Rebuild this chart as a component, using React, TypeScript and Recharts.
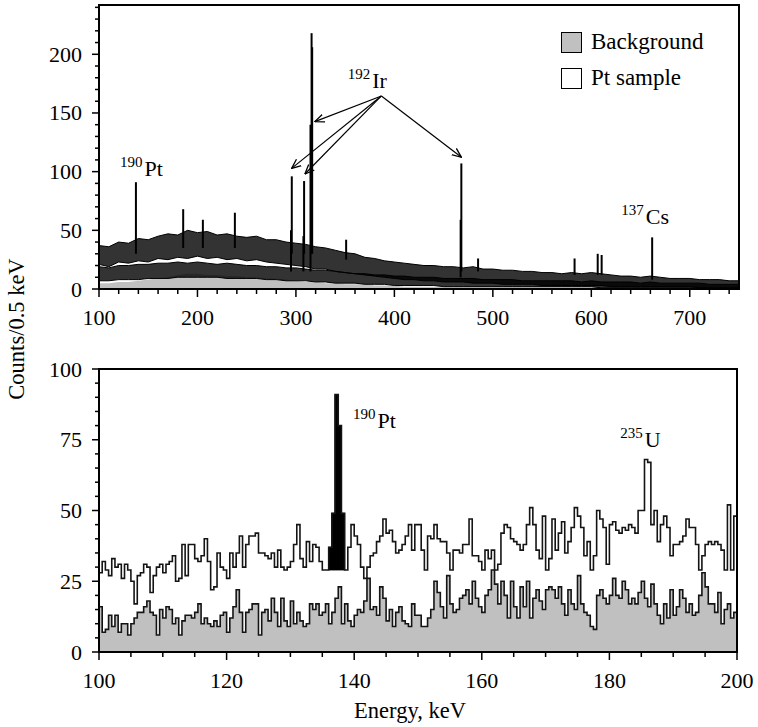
import React from 'react'
import {
  ComposedChart, Area, Line, XAxis, YAxis, ReferenceLine, ReferenceDot
} from 'recharts'

const FONT = '"Liberation Serif", "Times New Roman", Times, serif'
const GREY = '#c0c0c0'

// ---- lower panel: 0.5 keV channels starting at 100 keV ----
const ptSample = [
  28, 32, 29, 27, 33, 30, 31, 26, 31, 29, 25, 17, 27, 28, 31, 30, 21, 27, 30, 31,
  28, 31, 32, 34, 25, 26, 38, 27, 38, 38, 33, 32, 34, 40, 32, 22, 23, 35, 30, 29,
  26, 35, 30, 35, 41, 30, 38, 41, 41, 42,
  35, 35, 34, 33, 35, 30, 36, 30, 29, 30, 32, 38, 45, 33, 30, 39, 32, 38, 37, 32,
  29, 29, 37, 49, 91, 80, 49, 29, 37, 45, 41, 38, 30, 26, 30, 34, 35, 39, 41, 47,
  42, 43, 39, 35, 36, 38, 41, 45,
  36, 45, 45, 36, 29, 41, 40, 45, 40, 39, 39, 35, 29, 36, 36, 35, 38, 38, 47, 34,
  34, 32, 29, 36, 33, 36, 29, 31, 42, 45, 44, 40, 39, 38, 36, 38, 45, 51, 45, 36,
  33, 48, 29, 33, 47, 36, 42, 46, 35, 39, 44, 51, 48, 44, 34, 39, 29, 34, 50, 47,
  44, 31, 45, 46, 43, 42, 44, 43, 45, 44, 42, 50, 50, 68, 67, 45, 50, 39, 45, 48,
  44, 34, 38, 38, 39, 41, 47, 44, 44, 38, 29, 34, 38, 39, 38, 39, 38, 36, 29, 52,
  29, 48,
]
const bgSpectrum = [
  16, 7, 8, 13, 9, 13, 7, 10, 10, 6, 10, 12, 14, 14, 16, 18, 14, 13, 6, 15,
  12, 16, 15, 10, 12, 6, 11, 13, 13, 12, 14, 17, 10, 12, 10, 9, 11, 9, 13, 14,
  7, 12, 16, 22, 14, 7, 14, 15, 17, 17,
  6, 14, 15, 11, 19, 14, 9, 19, 11, 9, 18, 10, 14, 11, 9, 10, 17, 15, 17, 13,
  14, 17, 10, 14, 19, 23, 10, 17, 11, 9, 13, 15, 14, 18, 26, 15, 16, 13, 23, 19,
  11, 15, 9, 14, 16, 11, 10, 9,
  17, 13, 13, 9, 9, 12, 15, 25, 21, 16, 12, 27, 17, 14, 15, 19, 20, 22, 17, 25,
  19, 16, 14, 20, 22, 29, 24, 17, 25, 20, 12, 25, 16, 12, 23, 16, 25, 12, 19, 22,
  18, 15, 22, 23, 22, 19, 23, 17, 13, 22, 17, 15, 27, 17, 14, 13, 9, 8, 20, 22,
  19, 17, 20, 26, 20, 19, 25, 22, 17, 19, 17, 21, 25, 19, 16, 24, 17, 13, 10, 17,
  12, 22, 13, 16, 22, 19, 14, 17, 13, 14, 20, 28, 23, 17, 17, 14, 21, 10, 15, 17,
  12, 14,
]
const peakBase = 29
const peakFrom = 136
const peakTo = 138.5

// ---- upper panel: spread of the noisy spectra every 10 keV from 100 keV ----
const topPtLow = [
  21, 19, 23, 22, 24, 23, 26, 25, 27, 26, 28, 26, 27, 25, 26, 24, 25, 23, 22, 21,
  20, 19, 17, 17, 15, 14, 13, 12, 11, 10, 9, 8, 8, 7, 7, 6, 6, 6, 5, 5,
  5, 4, 4, 4, 4, 3, 3, 3, 3, 3, 3, 3, 2, 2, 2, 2, 2, 2, 2, 2,
  2, 1, 1, 1, 1, 1,
]
const topPtHigh = [
  37, 36, 40, 39, 43, 42, 45, 47, 46, 50, 48, 49, 46, 47, 45, 44, 45, 42, 42, 40,
  39, 38, 36, 35, 33, 31, 30, 27, 26, 24, 23, 22, 21, 20, 20, 19, 19, 18, 19, 17,
  17, 16, 16, 15, 15, 14, 14, 13, 14, 13, 14, 13, 12, 11, 11, 10, 11, 10, 9, 9,
  9, 8, 8, 8, 7, 7,
]
const topBgLow = [
  7, 7, 8, 8, 8, 9, 9, 9, 10, 10, 10, 10, 10, 9, 9, 9, 9, 8, 8, 7,
  7, 7, 6, 6, 5, 5, 5, 4, 4, 4, 3, 3, 3, 3, 3, 2, 2, 2, 2, 2,
  2, 2, 2, 2, 2, 2, 2, 2, 2, 2, 2, 1, 1, 1, 1, 1, 1, 1, 1, 1,
  1, 1, 1, 1, 1, 1,
]
const topBgHigh = [
  19, 18, 20, 20, 21, 21, 22, 22, 23, 22, 23, 22, 21, 22, 21, 20, 20, 19, 19, 18,
  18, 17, 16, 16, 15, 14, 13, 13, 12, 12, 11, 11, 10, 10, 10, 9, 9, 9, 9, 8,
  8, 8, 8, 7, 7, 7, 7, 7, 7, 6, 7, 6, 6, 6, 6, 5, 6, 5, 5, 5,
  5, 5, 4, 4, 4, 4,
]
const topBgFill = [
  5, 5, 6, 6, 7, 8, 9, 10, 12, 13, 13, 12, 12, 11, 11, 10, 10, 9, 9, 8,
  7, 6, 6, 5, 5, 4, 4, 4, 3, 3, 3, 2, 2, 2, 2, 2, 2, 2, 2, 2,
  2, 2, 2, 2, 2, 2, 2, 2, 2, 2, 2, 2, 2, 2, 2, 2, 2, 2, 2, 2,
  2, 2, 2, 2, 2, 2,
]
// narrow lines: energy (keV), foot and top (counts)
const topPeaks = [
  { e: 137.5, base: 30, top: 91 },
  { e: 185.5, base: 35, top: 68 },
  { e: 205.5, base: 35, top: 59 },
  { e: 238, base: 35, top: 65 },
  { e: 295, base: 15, top: 50 },
  { e: 295.8, base: 30, top: 96 },
  { e: 307.6, base: 15, top: 45 },
  { e: 308.3, base: 30, top: 92 },
  { e: 314.8, base: 15, top: 140 },
  { e: 315.9, base: 30, top: 218 },
  { e: 316.5, base: 30, top: 206 },
  { e: 351, base: 25, top: 42 },
  { e: 467.3, base: 10, top: 59 },
  { e: 468, base: 15, top: 107 },
  { e: 485, base: 15, top: 26 },
  { e: 583, base: 12, top: 26 },
  { e: 606.5, base: 12, top: 30 },
  { e: 610.5, base: 12, top: 29 },
  { e: 661.8, base: 8, top: 44 },
]

const topXMajor = [100, 200, 300, 400, 500, 600, 700]
const topYMajor = [0, 50, 100, 150, 200]
const bottomXMajor = [100, 120, 140, 160, 180, 200]
const bottomYMajor = [0, 25, 50, 75, 100]

const legendItems = [
  { name: 'Background', fill: GREY },
  { name: 'Pt sample', fill: '#fff' },
]

const bottomRows = ptSample.map((pt, i) => ({ e: 100 + i * 0.5, pt, bg: bgSpectrum[i] }))
bottomRows.push({ e: 200, pt: ptSample[ptSample.length - 1], bg: bgSpectrum[bgSpectrum.length - 1] })
const peakRows = bottomRows
  .filter(r => r.e >= peakFrom && r.e <= peakTo)
  .map(r => ({ e: r.e, band: [peakBase, r.pt] }))

const topRows = topPtLow.map((lo, i) => ({
  e: 100 + i * 10,
  pt: [lo, topPtHigh[i]],
  bg: [topBgLow[i], topBgHigh[i]],
  fill: topBgFill[i],
}))

const steps = (from: number, to: number, step: number) => {
  const out: number[] = []
  for (let v = from; v <= to; v += step) out.push(v)
  return out
}

const xTick = (majors: number[]) => (p: any) => {
  const { x, y, payload } = p
  const major = majors.includes(payload.value)
  return (
    <g>
      <line x1={x} y1={y} x2={x} y2={y + (major ? 8 : 5)} stroke="#000" strokeWidth={1.5} />
      {major && (
        <text x={x} y={y + 36} textAnchor="middle" fontFamily={FONT} fontSize={22} fill="#000">
          {payload.value}
        </text>
      )}
    </g>
  )
}

const yTick = (majors: number[]) => (p: any) => {
  const { x, y, payload } = p
  const major = majors.includes(payload.value)
  return (
    <g>
      <line x1={x} y1={y} x2={x - (major ? 7 : 4)} y2={y} stroke="#000" strokeWidth={1.5} />
      {major && (
        <text x={x - 17} y={y + 7.5} textAnchor="end" fontFamily={FONT} fontSize={22} fill="#000">
          {payload.value}
        </text>
      )}
    </g>
  )
}

const isoLabel = (mass: string, sym: string) => (p: any) => {
  const vb = p.viewBox || {}
  const x = (vb.x ?? 0) + (vb.width ?? 0) / 2
  const y = (vb.y ?? 0) + (vb.height ?? 0) / 2
  return (
    <text x={x} y={y} fontFamily={FONT} fill="#000">
      <tspan fontSize={15} dy={-9}>{mass}</tspan>
      <tspan fontSize={22} dx={2} dy={9}>{sym}</tspan>
    </text>
  )
}

const arrowShape = (p: any) => (
  <line x1={p.x1} y1={p.y1} x2={p.x2} y2={p.y2} stroke="#000" strokeWidth={1.2} markerEnd="url(#openArrow)" />
)

const irFrom = { x: 386.8, y: 164.5 }
const irTargets = [
  { x: 319.2, y: 142.6 },
  { x: 295.6, y: 102.8 },
  { x: 309.1, y: 98 },
  { x: 468.1, y: 112.2 },
]

// chart boxes (page pixels)
const TOP = { top: 0, width: 758, height: 335, margin: { top: 5, right: 19, bottom: 0, left: 0 }, yw: 99, xh: 46 }
const BOTTOM = { top: 340, width: 758, height: 387, margin: { top: 29, right: 21, bottom: 0, left: 0 }, yw: 99, xh: 75 }

// box round each plot area
function frameStyle(box: any): React.CSSProperties {
  const left = box.margin.left + box.yw
  const right = box.width - box.margin.right
  const top = box.top + box.margin.top
  const bottom = box.top + box.height - box.margin.bottom - box.xh
  return {
    position: 'absolute', left: left - 1, top: top - 1,
    width: right - left + 2, height: bottom - top + 2,
    boxSizing: 'border-box', borderWidth: 2, borderStyle: 'solid', borderColor: '#000',
    zIndex: 10,
  }
}

function TopPanel() {
  return (
    <ComposedChart width={TOP.width} height={TOP.height} margin={TOP.margin}>
      <XAxis
        dataKey="e" type="number" domain={[100, 750]} allowDataOverflow
        ticks={steps(100, 740, 20)} interval={0} height={TOP.xh}
        axisLine={false} tickLine={false} tickSize={0} tickMargin={0}
        tick={xTick(topXMajor)}
      />
      <YAxis
        type="number" domain={[0, 242]} allowDataOverflow
        ticks={steps(0, 240, 10)} interval={0} width={TOP.yw}
        axisLine={false} tickLine={false} tickSize={0} tickMargin={0}
        tick={yTick(topYMajor)}
      />
      <Area data={topRows} dataKey="fill" type="linear" fill={GREY} fillOpacity={1} stroke="none" dot={false} activeDot={false} isAnimationActive={false} />
      <Area data={topRows} dataKey="bg" type="linear" fill="#000" fillOpacity={0.8} stroke="#000" strokeWidth={1} dot={false} activeDot={false} isAnimationActive={false} />
      <Area data={topRows} dataKey="pt" type="linear" fill="#000" fillOpacity={0.8} stroke="#000" strokeWidth={1} dot={false} activeDot={false} isAnimationActive={false} />
      {topPeaks.map((pk, i) => (
        <Line
          key={i}
          data={[{ e: pk.e, v: pk.base }, { e: pk.e, v: pk.top }]}
          dataKey="v" type="linear" stroke="#000" strokeWidth={2}
          dot={false} activeDot={false} isAnimationActive={false}
        />
      ))}
      {irTargets.map((t, i) => (
        <ReferenceLine key={i} segment={[irFrom, t]} shape={arrowShape} />
      ))}
      <ReferenceDot x={121.3} y={96.3} r={1} fill="none" stroke="none" label={isoLabel('190', 'Pt')} />
      <ReferenceDot x={352.7} y={171.3} r={1} fill="none" stroke="none" label={isoLabel('192', 'Ir')} />
      <ReferenceDot x={630.5} y={55.4} r={1} fill="none" stroke="none" label={isoLabel('137', 'Cs')} />
    </ComposedChart>
  )
}

function BottomPanel() {
  return (
    <ComposedChart width={BOTTOM.width} height={BOTTOM.height} margin={BOTTOM.margin}>
      <XAxis
        dataKey="e" type="number" domain={[100, 200]} allowDataOverflow
        ticks={steps(100, 200, 5)} interval={0} height={BOTTOM.xh}
        axisLine={false} tickLine={false} tickSize={0} tickMargin={0}
        tick={xTick(bottomXMajor)}
      />
      <YAxis
        type="number" domain={[0, 100]} allowDataOverflow
        ticks={steps(0, 100, 5)} interval={0} width={BOTTOM.yw}
        axisLine={false} tickLine={false} tickSize={0} tickMargin={0}
        tick={yTick(bottomYMajor)}
      />
      <Area data={bottomRows} dataKey="bg" type="stepAfter" fill={GREY} fillOpacity={1} stroke="none" dot={false} activeDot={false} isAnimationActive={false} />
      <Line data={bottomRows} dataKey="bg" type="stepAfter" stroke="#141414" strokeWidth={1.6} dot={false} activeDot={false} isAnimationActive={false} />
      <Line data={bottomRows} dataKey="pt" type="stepAfter" stroke="#141414" strokeWidth={1.6} dot={false} activeDot={false} isAnimationActive={false} />
      <Area data={peakRows} dataKey="band" type="stepAfter" fill="#000" fillOpacity={1} stroke="#000" strokeWidth={1} dot={false} activeDot={false} isAnimationActive={false} />
      <ReferenceDot x={139.8} y={79.2} r={1} fill="none" stroke="none" label={isoLabel('190', 'Pt')} />
      <ReferenceDot x={181.7} y={72.4} r={1} fill="none" stroke="none" label={isoLabel('235', 'U')} />
    </ComposedChart>
  )
}

export default function App() {
  return (
    <div style={{ position: 'absolute', left: 0, top: 0, width: 758, height: 727, background: '#fff', fontFamily: FONT, color: '#000' }}>
      <svg width={0} height={0} style={{ position: 'absolute' }}>
        <defs>
          <marker id="openArrow" viewBox="0 0 10 10" refX={9.5} refY={5} markerWidth={10} markerHeight={10} markerUnits="userSpaceOnUse" orient="auto">
            <path d="M0,1 L9.5,5 L0,9" fill="none" stroke="#000" strokeWidth={1.3} />
          </marker>
        </defs>
      </svg>
      <div style={{ position: 'absolute', left: 0, top: TOP.top }}>
        <TopPanel />
      </div>
      <div style={{ position: 'absolute', left: 0, top: BOTTOM.top }}>
        <BottomPanel />
      </div>
      <div style={frameStyle(TOP)} />
      <div style={frameStyle(BOTTOM)} />
      {legendItems.map((it, i) => (
        <div key={it.name} style={{ position: 'absolute', left: 561, top: 31 + i * 36, height: 22, display: 'flex', alignItems: 'center', zIndex: 11 }}>
          <div style={{ width: 21, height: 21, boxSizing: 'border-box', border: '1.5px solid #000', background: it.fill }} />
          <span style={{ marginLeft: 9, fontSize: 23, lineHeight: '22px' }}>{it.name}</span>
        </div>
      ))}
      <div style={{ position: 'absolute', left: 17, top: 329, transform: 'translate(-50%, -50%) rotate(-90deg)', fontSize: 22.5, lineHeight: 1, whiteSpace: 'nowrap' }}>
        Counts/0.5 keV
      </div>
      <div style={{ position: 'absolute', left: 410, top: 700, transform: 'translateX(-50%)', fontSize: 22.5, lineHeight: 1, whiteSpace: 'nowrap' }}>
        Energy, keV
      </div>
    </div>
  )
}
